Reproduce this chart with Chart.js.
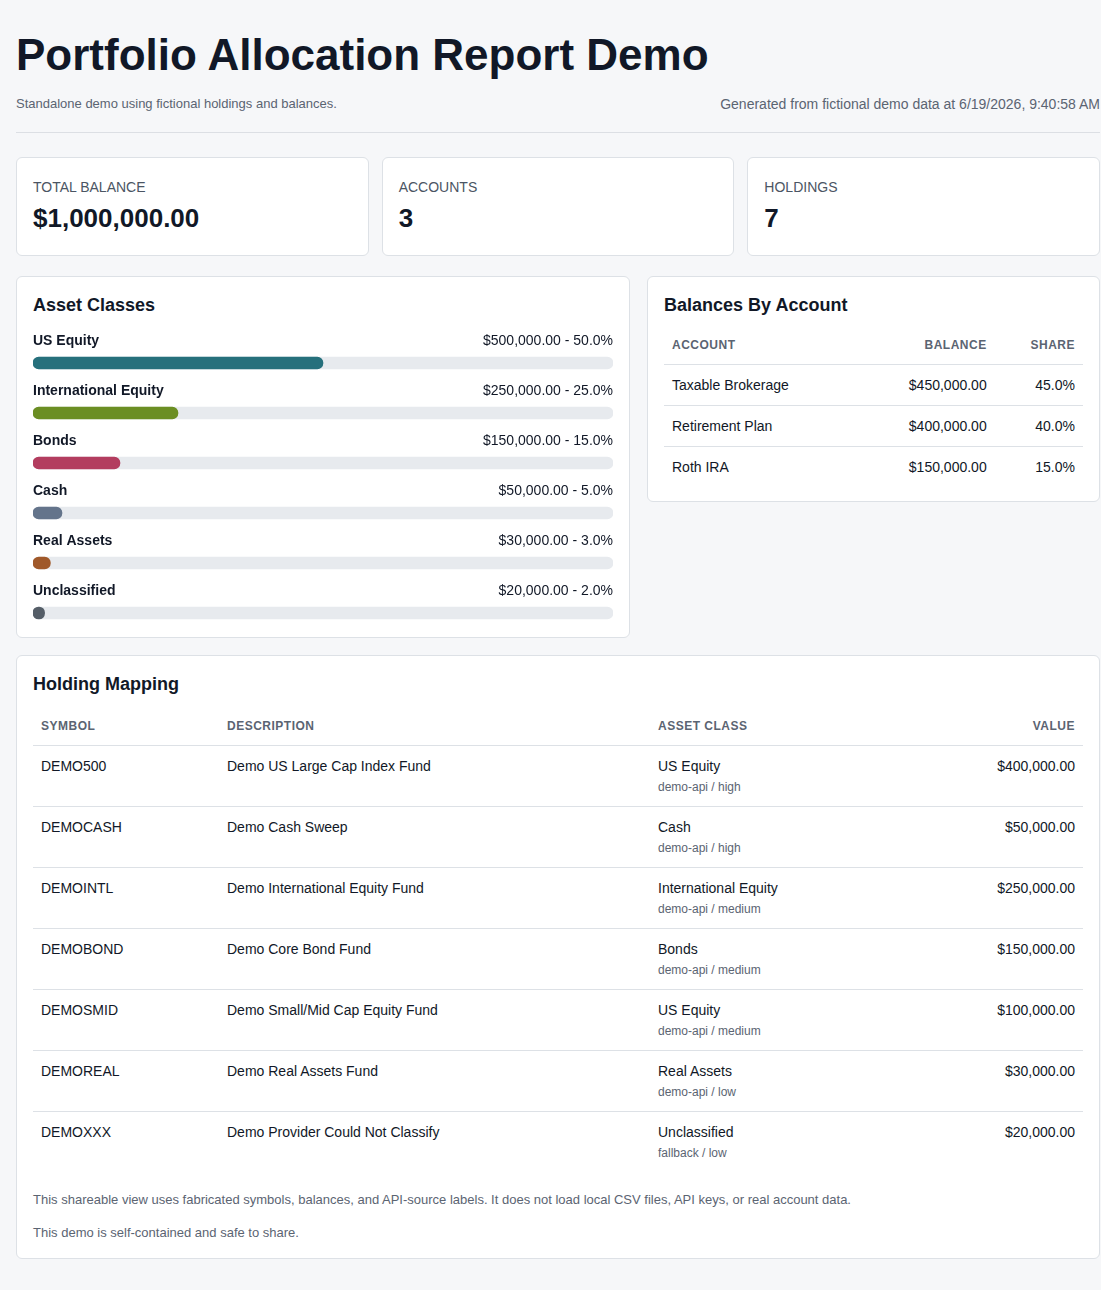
<!DOCTYPE html>
<html><head><meta charset="utf-8">
<script src="https://cdn.jsdelivr.net/npm/chart.js@4"></script>
<style>
body{margin:0;background:#f6f7f9;font-family:"Liberation Sans",Arial,sans-serif;color:#111827;}
.wrap{width:1084px;margin-left:16px;}
h1{font-size:44px;margin:0;padding-top:30px;line-height:50px;font-weight:bold;}
.sub{display:flex;justify-content:space-between;font-size:13px;color:#5b6472;margin-top:16px;padding-bottom:20px;border-bottom:1px solid #dcdfe4;}
.sub span:last-child{font-size:14px;}
.card{background:#fff;border:1px solid #dde1e6;border-radius:6px;box-sizing:border-box;}
.stats{display:flex;gap:13px;margin-top:24px;}
.stats .card{flex:1;height:99px;padding:21px 16px;}
.stats .lab{font-size:14px;color:#4b5563;}
.stats .val{font-size:26px;font-weight:bold;margin-top:8px;}
.row{display:flex;gap:17px;margin-top:20px;align-items:flex-start;}
h2{font-size:18px;margin:0;font-weight:bold;}
table{border-collapse:collapse;width:100%;font-size:14px;}
th{font-size:12px;color:#5b6472;text-transform:uppercase;letter-spacing:.5px;text-align:left;padding:0 8px 12px;border-bottom:1px solid #dde1e6;}
td{padding:12px 8px;border-bottom:1px solid #dde1e6;vertical-align:top;}
tr:last-child td{border-bottom:none;}
.r{text-align:right;}
.meta{font-size:12px;color:#5b6472;margin-top:6px;}
.note{font-size:13px;color:#5b6472;margin:0;}
</style></head><body>
<div class="wrap">
<h1>Portfolio Allocation Report Demo</h1>
<div class="sub"><span>Standalone demo using fictional holdings and balances.</span><span>Generated from fictional demo data at 6/19/2026, 9:40:58 AM</span></div>
<div class="stats">
<div class="card"><div class="lab">TOTAL BALANCE</div><div class="val">$1,000,000.00</div></div>
<div class="card"><div class="lab">ACCOUNTS</div><div class="val">3</div></div>
<div class="card"><div class="lab">HOLDINGS</div><div class="val">7</div></div>
</div>
<div class="row">
<div class="card" style="width:614px;height:362px;padding:18px 16px 0;">
<h2>Asset Classes</h2>
<div style="position:relative;width:580px;height:315px;margin-top:7px;"><canvas id="alloc"></canvas></div>
</div>
<div class="card" style="width:453px;padding:18px 16px 14px;">
<h2>Balances By Account</h2>
<table style="margin-top:22px;" id="acct"></table>
</div>
</div>
<div class="card" style="margin-top:17px;padding:18px 16px 18px;">
<h2>Holding Mapping</h2>
<table style="margin-top:24px;" id="hold"></table>
<p class="note" style="margin-top:20px;">This shareable view uses fabricated symbols, balances, and API-source labels. It does not load local CSV files, API keys, or real account data.</p>
<p class="note" style="margin-top:18px;">This demo is self-contained and safe to share.</p>
</div>
</div>
<script>
var CLASSES = ['US Equity', 'International Equity', 'Bonds', 'Cash', 'Real Assets', 'Unclassified'];
var CLASS_VALUES = [500000, 250000, 150000, 50000, 30000, 20000];
var CLASS_PCT = [50, 25, 15, 5, 3, 2];
var CLASS_COLORS = ['#26707c', '#6b8e23', '#b33d5f', '#64748b', '#a0592a', '#555e68'];

var ACCOUNTS = ['Taxable Brokerage', 'Retirement Plan', 'Roth IRA'];
var ACCOUNT_BAL = [450000, 400000, 150000];
var ACCOUNT_SHARE = [45, 40, 15];

var SYMBOLS = ['DEMO500', 'DEMOCASH', 'DEMOINTL', 'DEMOBOND', 'DEMOSMID', 'DEMOREAL', 'DEMOXXX'];
var DESCS = ['Demo US Large Cap Index Fund', 'Demo Cash Sweep', 'Demo International Equity Fund', 'Demo Core Bond Fund', 'Demo Small/Mid Cap Equity Fund', 'Demo Real Assets Fund', 'Demo Provider Could Not Classify'];
var HOLD_CLASS = ['US Equity', 'Cash', 'International Equity', 'Bonds', 'US Equity', 'Real Assets', 'Unclassified'];
var HOLD_SRC = ['demo-api / high', 'demo-api / high', 'demo-api / medium', 'demo-api / medium', 'demo-api / medium', 'demo-api / low', 'fallback / low'];
var HOLD_VAL = [400000, 50000, 250000, 150000, 100000, 30000, 20000];

function money(n) { return '$' + n.toLocaleString('en-US', { minimumFractionDigits: 2, maximumFractionDigits: 2 }); }

document.getElementById('acct').innerHTML =
  '<tr><th>Account</th><th class="r">Balance</th><th class="r">Share</th></tr>' +
  ACCOUNTS.map(function(a, i) {
    return '<tr><td>' + a + '</td><td class="r">' + money(ACCOUNT_BAL[i]) + '</td><td class="r">' + ACCOUNT_SHARE[i].toFixed(1) + '%</td></tr>';
  }).join('');

document.getElementById('hold').innerHTML =
  '<tr><th style="width:170px">Symbol</th><th style="width:415px">Description</th><th>Asset Class</th><th class="r">Value</th></tr>' +
  SYMBOLS.map(function(s, i) {
    return '<tr><td>' + s + '</td><td>' + DESCS[i] + '</td><td>' + HOLD_CLASS[i] + '<div class="meta">' + HOLD_SRC[i] + '</div></td><td class="r">' + money(HOLD_VAL[i]) + '</td></tr>';
  }).join('');

var labelPlugin = {
  id: 'rowLabels',
  afterDatasetsDraw: function(chart) {
    var ctx = chart.ctx, meta = chart.getDatasetMeta(1), area = chart.chartArea;
    ctx.save();
    ctx.textBaseline = 'middle';
    meta.data.forEach(function(bar, i) {
      var y = bar.y - 22;
      ctx.fillStyle = '#111827';
      ctx.font = 'bold 14px "Liberation Sans", Arial, sans-serif';
      ctx.textAlign = 'left';
      ctx.fillText(CLASSES[i], area.left, y);
      ctx.font = '14px "Liberation Sans", Arial, sans-serif';
      ctx.textAlign = 'right';
      ctx.fillText(money(CLASS_VALUES[i]) + ' - ' + CLASS_PCT[i].toFixed(1) + '%', area.right, y);
    });
    ctx.restore();
  }
};

new Chart(document.getElementById('alloc'), {
  type: 'bar',
  data: { labels: CLASSES, datasets: [
    { data: CLASSES.map(function() { return 100; }), backgroundColor: '#e7eaee', grouped: false, order: 2, barThickness: 12, borderRadius: 6, borderSkipped: false },
    { data: CLASS_PCT, backgroundColor: CLASS_COLORS, grouped: false, order: 1, barThickness: 12, borderRadius: 6, borderSkipped: false }
  ]},
  options: { indexAxis: 'y', responsive: true, maintainAspectRatio: false, animation: false,
    layout: { padding: { top: 15, bottom: 0, left: 0, right: 0 } },
    plugins: { legend: { display: false }, tooltip: { enabled: false } },
    scales: { x: { min: 0, max: 100, display: false }, y: { display: false } }
  },
  plugins: [labelPlugin]
});
</script>
</body></html>
